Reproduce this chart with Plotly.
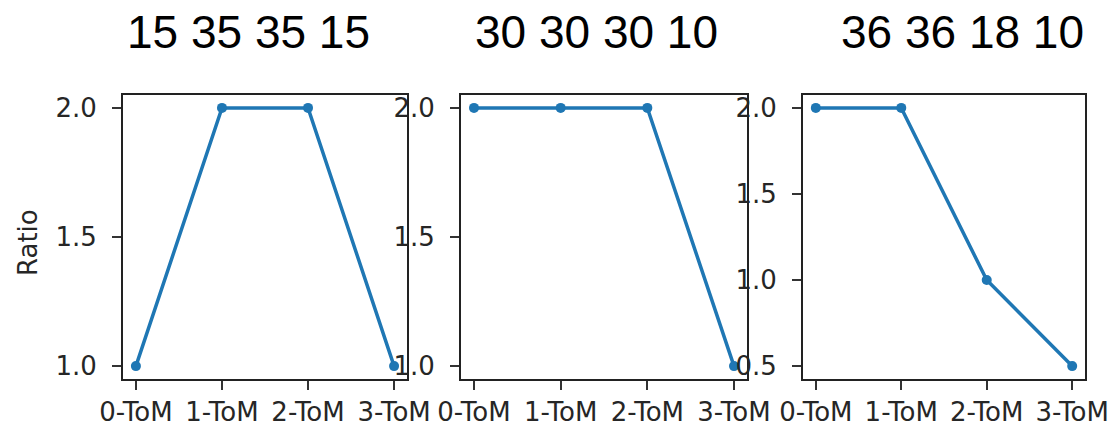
import plotly.graph_objects as go

# ToM levels on the x axis
levels = ["0-ToM", "1-ToM", "2-ToM", "3-ToM"]

# Ratio per level for each agent mix
ratio_a = [1.0, 2.0, 2.0, 1.0]
ratio_b = [2.0, 2.0, 2.0, 1.0]
ratio_c = [2.0, 2.0, 1.0, 0.5]

# Panel headings (population split)
titles = ["15 35 35 15", "30 30 30 10", "36 36 18 10"]

# Y tick values per panel
yticks_a = [1.0, 1.5, 2.0]
yticks_b = [1.0, 1.5, 2.0]
yticks_c = [0.5, 1.0, 1.5, 2.0]

W, H = 1109, 431
BLUE = "#1f77b4"
TICK_FONT = dict(family="DejaVu Sans", size=26, color="#262626")

# panel boxes in pixels: (left, right)
boxes = [(123, 407), (461, 747), (803, 1085)]
top_px, bottom_px = 95, 379
title_x = [248, 596, 962]

series = [ratio_a, ratio_b, ratio_c]
yticks = [yticks_a, yticks_b, yticks_c]

fig = go.Figure()
layout = dict(
    template="none",
    width=W, height=H,
    margin=dict(l=0, r=0, t=0, b=0, autoexpand=False),
    paper_bgcolor="white", plot_bgcolor="white",
    showlegend=False,
)

for i, (vals, ticks, (x0, x1)) in enumerate(zip(series, yticks, boxes)):
    n = "" if i == 0 else str(i + 1)
    fig.add_trace(go.Scatter(
        x=list(range(len(levels))), y=vals,
        mode="lines+markers",
        line=dict(color=BLUE, width=3.5),
        marker=dict(color=BLUE, size=10),
        xaxis="x" + n, yaxis="y" + n,
    ))
    lo, hi = min(vals), max(vals)
    pad = 0.05 * (hi - lo)
    common = dict(
        automargin=False,
        showline=True, mirror=True, linecolor="#222", linewidth=2,
        showgrid=False, zeroline=False,
        ticks="outside", ticklen=9, tickwidth=1.5, tickcolor="#333",
        tickfont=TICK_FONT,
    )
    layout["xaxis" + n] = dict(
        common,
        domain=[x0 / W, x1 / W],
        anchor="y" + n,
        range=[-0.15, len(levels) - 1 + 0.15],
        tickmode="array",
        tickvals=list(range(len(levels))),
        ticktext=levels,
    )
    layout["yaxis" + n] = dict(
        common,
        domain=[1 - bottom_px / H, 1 - top_px / H],
        anchor="x" + n,
        range=[lo - pad, hi + pad],
        tickmode="array",
        tickvals=ticks,
        ticktext=[f"{t:.1f}" for t in ticks],
        ticklabelstandoff=10,
    )

layout["annotations"] = [
    dict(
        text=t, x=tx / W, y=1 - 31.5 / H, xref="paper", yref="paper",
        xanchor="center", yanchor="middle", showarrow=False,
        font=dict(family="Liberation Sans", size=46, color="black"),
    )
    for t, tx in zip(titles, title_x)
] + [
    dict(
        text="Ratio", x=28 / W, y=1 - 243 / H, xref="paper", yref="paper",
        xanchor="center", yanchor="middle", showarrow=False, textangle=-90,
        font=dict(family="DejaVu Sans", size=26, color="#262626"),
    )
]

fig.update_layout(**layout)
fig.write_html("out.html")
